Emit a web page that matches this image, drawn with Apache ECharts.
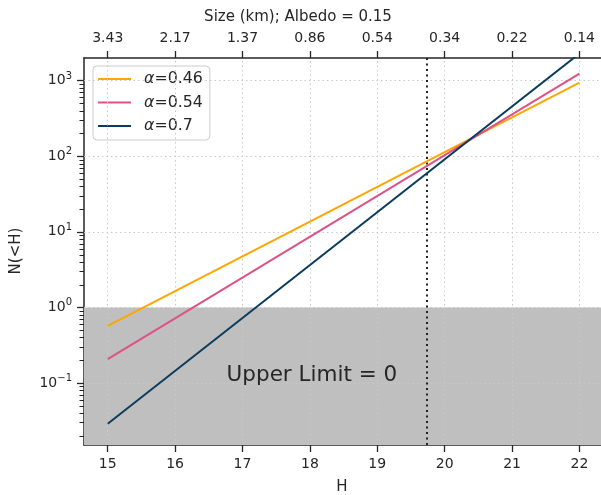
<!DOCTYPE html>
<html>
<head>
<meta charset="utf-8">
<script src="https://cdn.jsdelivr.net/npm/echarts@6/dist/echarts.min.js"></script>
<style>html,body{margin:0;padding:0;background:#fff}#c{width:601px;height:495px}</style>
</head>
<body>
<div id="c"></div>
<script>
// ---- data ----
const hTicks = [15, 16, 17, 18, 19, 20, 21, 22];
const sizeLabels = ['3.43', '2.17', '1.37', '0.86', '0.54', '0.34', '0.22', '0.14'];
const yMajor = [0.1, 1, 10, 100, 1000];
const yMinor = [0.02,0.03,0.04,0.05,0.06,0.07,0.08,0.09,
                0.2,0.3,0.4,0.5,0.6,0.7,0.8,0.9,
                2,3,4,5,6,7,8,9,
                20,30,40,50,60,70,80,90,
                200,300,400,500,600,700,800,900];
const seriesNames = ['α=0.46', 'α=0.54', 'α=0.7'];
const lineH = [15, 22];
const n046 = [0.571, 940];
const n054 = [0.207, 1238];
const n070 = [0.0288, 2285];
const hLimit = 19.735;
const xRange = [14.648, 22.32];
const yRange = [0.0151, 1995];
const upperLimitValue = 1;

const colors = ['#ffa600', '#de5285', '#0b3c5d'];
const ink = '#262626';

function pairs(xs, ys) { return xs.map((x, i) => [x, ys[i]]); }

const chart = echarts.init(document.getElementById('c'));
const yFmt = v => {
  const e = Math.round(Math.log10(v));
  return '{b|10}{s|' + (e < 0 ? '\u2212' + (-e) : e) + '}';
};
const lineSeries = [n046, n054, n070].map((d, i) => ({
  name: seriesNames[i],
  type: 'line',
  data: pairs(lineH, d),
  showSymbol: false,
  symbol: 'none',
  z: 5,
  lineStyle: { color: colors[i], width: 2 },
  itemStyle: { color: colors[i] }
}));

const textGraphics = [
  { type: 'text', x: 298, y: 17, style: { text: 'Size (km); Albedo = 0.15', fill: ink, font: '15px "DejaVu Sans"', align: 'center', verticalAlign: 'middle' } },
  { type: 'text', x: 342, y: 487, style: { text: 'H', fill: ink, font: '15px "DejaVu Sans"', align: 'center', verticalAlign: 'middle' } },
  { type: 'text', x: 16, y: 251, rotation: Math.PI / 2, style: { text: 'N(<H)', fill: ink, font: '15px "DejaVu Sans"', align: 'center', verticalAlign: 'middle' } }
];

chart.setOption({
  animation: false,
  grid: { left: 84, top: 58, right: 0, bottom: 50 },
  legend: {
    orient: 'vertical', left: 93, top: 66,
    data: seriesNames,
    icon: 'rect', itemWidth: 33, itemHeight: 2,
    itemGap: 7.5,
    padding: [5, 7, 6, 5],
    backgroundColor: 'rgba(255,255,255,0.8)',
    borderColor: '#cccccc', borderWidth: 1, borderRadius: 4,
    formatter: n => '{i|α}{t|' + n.slice(1) + '}',
    textStyle: {
      color: ink, fontFamily: 'DejaVu Sans', fontSize: 15.8, lineHeight: 16, padding: [0, 0, 0, 8],
      rich: {
        i: { fontStyle: 'italic', fontFamily: 'DejaVu Sans', fontSize: 15.8, color: ink },
        t: { fontFamily: 'DejaVu Sans', fontSize: 15.8, color: ink }
      }
    }
  },
  xAxis: [{
    type: 'value', min: xRange[0], max: xRange[1], position: 'bottom',
    axisLine: { show: true, lineStyle: { color: ink, width: 1.5 } },
    axisTick: { show: true, customValues: hTicks, length: 7, lineStyle: { color: ink, width: 1.3 } },
    axisLabel: { customValues: hTicks, color: ink, fontFamily: 'DejaVu Sans', fontSize: 14, margin: 12 },
    splitLine: { show: false }
  }, {
    type: 'value', min: xRange[0], max: xRange[1], position: 'top',
    axisLine: { show: true, lineStyle: { color: ink, width: 1.5 } },
    axisTick: { show: true, customValues: hTicks, length: 7, lineStyle: { color: ink, width: 1.3 } },
    axisLabel: {
      customValues: hTicks, color: ink, fontFamily: 'DejaVu Sans', fontSize: 14, margin: 13,
      formatter: v => sizeLabels[hTicks.indexOf(Math.round(v))]
    },
    splitLine: { show: false }
  }],
  yAxis: [{
    type: 'log', logBase: 10, min: yRange[0], max: yRange[1], position: 'left',
    axisLine: { show: true, lineStyle: { color: ink, width: 1.5 } },
    axisTick: { show: true, customValues: yMajor, length: 7, lineStyle: { color: ink, width: 1.3 } },
    axisLabel: {
      customValues: yMajor, formatter: yFmt, margin: 12,
      rich: {
        b: { fontFamily: 'DejaVu Sans', fontSize: 14, color: ink },
        s: { fontFamily: 'DejaVu Sans', fontSize: 10, color: ink, padding: [0, 0, 9, 0] }
      }
    },
    splitLine: { show: false }
  }],
  series: [{
    name: 'limit', type: 'line', data: [], z: 1, silent: true,
    markArea: {
      silent: true,
      itemStyle: { color: '#bfbfbf' },
      data: [[{ coord: [xRange[0], yRange[0]] }, { coord: [xRange[1], upperLimitValue] }]]
    }
  }, {
    name: 'grid', type: 'line', data: [], z: 2, silent: true,
    markLine: {
      silent: true, symbol: 'none', label: { show: false },
      lineStyle: { color: '#c8c8c8', width: 1, type: [1.5, 3] },
      data: hTicks.map(h => ({ xAxis: h })).concat(yMajor.map(v => ({ yAxis: v })))
    }
  }, {
    name: 'cut', type: 'line', data: [], z: 3, silent: true,
    markLine: {
      silent: true, symbol: 'none', label: { show: false },
      lineStyle: { color: '#222', width: 2, type: [2, 3.5] },
      data: [{ xAxis: hLimit }]
    },
    markPoint: {
      silent: true, symbol: 'circle', symbolSize: 0,
      label: { show: true, position: 'inside', formatter: 'Upper Limit = 0', color: ink, fontFamily: 'DejaVu Sans', fontSize: 21.5 },
      data: [{ coord: [18.03, 0.127] }]
    }
  }].concat(lineSeries),
  graphic: textGraphics
});

// minor log ticks on the left spine, placed through the chart's own y scale
const axisX = chart.convertToPixel({ xAxisIndex: 0 }, xRange[0]);
const minorTickGraphics = yMinor.map(v => {
  const py = Math.round(chart.convertToPixel({ yAxisIndex: 0 }, v)) + 0.5;
  return {
    type: 'line', z: 100,
    shape: { x1: axisX - 4.5, y1: py, x2: axisX, y2: py },
    style: { stroke: ink, lineWidth: 1 }
  };
});
chart.setOption({ graphic: textGraphics.concat(minorTickGraphics) });
</script>
</body>
</html>
